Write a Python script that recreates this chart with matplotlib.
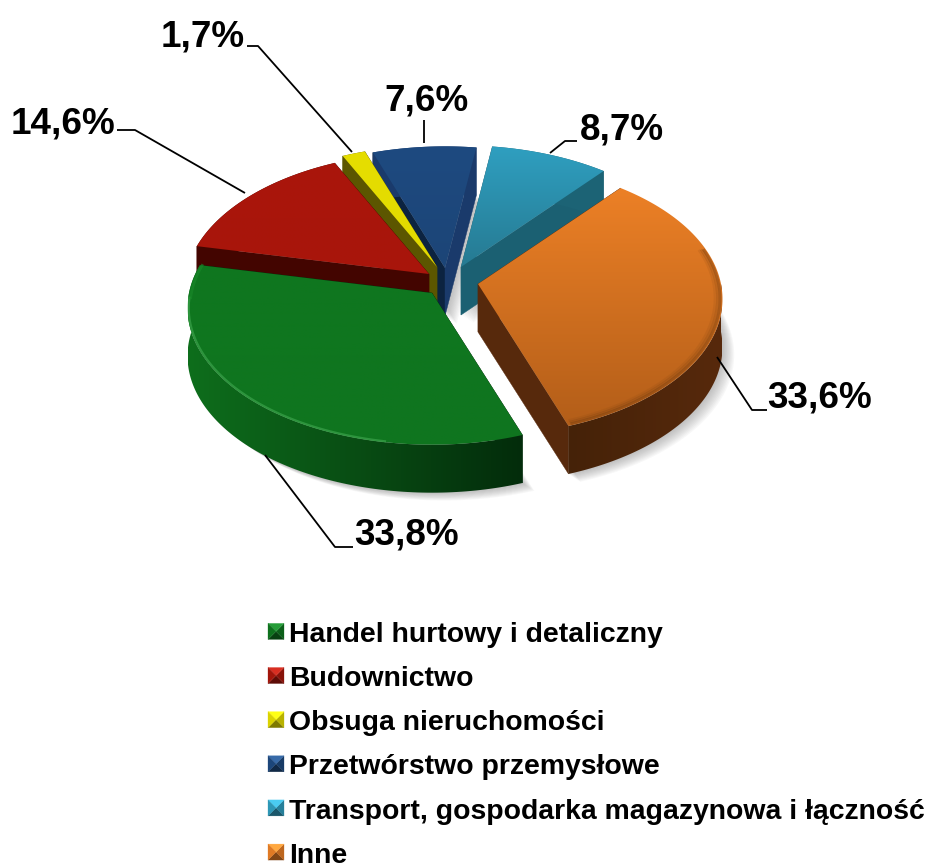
import numpy as np
import matplotlib
matplotlib.use("Agg")
import matplotlib.pyplot as plt
from matplotlib.colors import to_rgb
from matplotlib.legend_handler import HandlerBase
from matplotlib.patches import Polygon

# ---- data ----
categories = ["Handel hurtowy i detaliczny", "Budownictwo", "Obsuga nieruchomości",
              "Przetwórstwo przemysłowe", "Transport, gospodarka magazynowa i łączność", "Inne"]
values = [33.8, 14.6, 1.7, 7.6, 8.7, 33.6]
value_labels = ["33,8%", "14,6%", "1,7%", "7,6%", "8,7%", "33,6%"]

# ---- style / layout (pixels) ----
apexes = [(432, 293), (429, 274), (437, 267), (445, 268), (461, 267), (478, 284)]
top_light = ["#0f771f", "#aa160b", "#e6de00", "#1e4a80", "#2f9fc0", "#ec8026"]
top_dark = ["#0f751f", "#a8150b", "#e2da00", "#1c4577", "#267a92", "#b35e19"]
wall_outer = ["#0e6e1c", "#430500", "#5c5600", "#1a3a6b", "#1c6375", "#57290c"]
wall_end = ["#032c0b", "#430500", "#5c5600", "#1a3a6b", "#1b6072", "#57290c"]
wall_start = ["#032c0b", "#430500", "#5c5600", "#0c2340", "#1b6072", "#57290c"]
label_pos = [(407, 535), (63, 124), (203, 37), (427, 101), (622, 130), (820, 398)]
leaders = [[(353, 547), (335, 547), (265, 455)],
           [(117, 130), (135, 130), (245, 193)],
           [(247, 46), (258, 46), (352, 152)],
           [(424, 120), (424, 143)],
           [(577, 141), (565, 141), (550, 153)],
           [(767, 410), (752, 410), (717, 357)]]
START = 70.5
RX, RY, PERSP, DEPTH = 243.0, 135.0, 0.11, 48.0

plt.rcParams["font.family"] = ["Liberation Sans", "DejaVu Sans"]
fig = plt.figure(figsize=(9.27, 8.63), dpi=100, facecolor="white")
ax = fig.add_axes([0, 0, 1, 1])
ax.set_xlim(0, 927)
ax.set_ylim(863, 0)
ax.axis("off")
ax.autoscale(False)

z = [10]


def nz():
    z[0] += 1
    return z[0]


def proj(apex, deg, r=1.0):
    a = np.radians(deg)
    u, v = r * np.cos(a), r * np.sin(a)
    w = 1 / (1 - PERSP * v)
    return apex[0] + RX * u * w, apex[1] + RY * v * w


def arc(apex, a0, a1, r=1.0, n=120):
    x, y = proj(apex, np.linspace(a0, a1, n), r)
    return np.column_stack([x, y])


def grad_fill(pts, c0, c1, vertical=True):
    pts = np.asarray(pts)
    x0, y0 = pts.min(axis=0)
    x1, y1 = pts.max(axis=0)
    t = np.linspace(0, 1, 128)[:, None]
    ramp = (1 - t) * np.array(to_rgb(c0)) + t * np.array(to_rgb(c1))
    img = ramp[:, None, :] if vertical else ramp[None, :, :]
    zo = nz()
    im = ax.imshow(img, extent=(x0, x1, y1, y0), aspect="auto", interpolation="bilinear", zorder=zo)
    clip = Polygon(pts, closed=True, transform=ax.transData, fc="none", ec="none")
    ax.add_patch(clip)
    im.set_clip_path(clip)


def extrude(top):
    low = top[::-1] + np.array([0, DEPTH])
    return np.vstack([top, low])


# sweep angles from the values
fractions = np.array(values) / np.sum(values)
edges = START + np.concatenate([[0], np.cumsum(fractions) * 360])
spans = list(zip(edges[:-1], edges[1:]))

# soft shadow
for off in np.linspace(1, 13, 10):
    for i, (a0, a1) in enumerate(spans):
        rim = arc(apexes[i], a0, a1)
        poly = np.vstack([[apexes[i]], rim])
        ax.fill(poly[:, 0] + off * 0.9, poly[:, 1] + DEPTH + off * 0.6, color="#707070",
                alpha=0.05, lw=0, zorder=2)

# painter's order: back to front
order = [4, 3, 2, 1, 5, 0]
for i in order:
    a0, a1 = spans[i]
    ap = apexes[i]
    rim = arc(ap, a0, a1)
    # radial walls
    for ang, col in ((a0, wall_start[i]), (a1, wall_end[i])):
        edge = np.array([ap, proj(ap, ang)])
        poly = extrude(edge)
        ax.fill(poly[:, 0], poly[:, 1], color=col, lw=0.3, ec=col, zorder=nz())
    # outer wall
    if i == 0:
        grad_fill(extrude(arc(ap, a1, a0)), "#0e6e1c", "#032c0b", vertical=False)
    elif i == 5:
        grad_fill(extrude(arc(ap, 360, a1)), "#452208", "#57290c", vertical=False)
    else:
        wall = extrude(rim)
        ax.fill(wall[:, 0], wall[:, 1], color=wall_outer[i], lw=0, zorder=nz())
    # top face
    top = np.vstack([[ap], rim])
    grad_fill(top, top_light[i], top_dark[i], vertical=True)

    # rim shading
    if i == 0:
        hl = arc(ap, 100, 178, 0.995)
        ax.plot(hl[:, 0], hl[:, 1], color="#3aa24a", lw=1.6, alpha=0.7, zorder=nz())
        hl = arc(ap, 178, a1, 0.99)
        ax.plot(hl[:, 0], hl[:, 1], color="#1a8a2a", lw=2.0, alpha=0.6, zorder=nz())
    if i == 5:
        for r, al in zip((0.99, 0.98, 0.97), (0.45, 0.25, 0.12)):
            hl = arc(ap, 345, a1 - 1, r)
            ax.plot(hl[:, 0], hl[:, 1], color="#7a4010", lw=2.0, alpha=al, zorder=nz())

# leader lines
for path in leaders:
    p = np.array(path)
    ax.plot(p[:, 0], p[:, 1], color="black", lw=1.3, zorder=200, solid_capstyle="butt")

# value labels
for txt, (x, y) in zip(value_labels, label_pos):
    ax.text(x, y, txt, fontsize=26.6, fontweight="bold", color="black", ha="center", va="center", zorder=201)


# legend with bevelled square keys
class BevelHandle:
    def __init__(self, base):
        self.base = base


class BevelHandler(HandlerBase):
    def create_artists(self, legend, orig, xd, yd, width, height, fontsize, trans):
        s = 16.0 * 72 / 100
        x0 = xd * -1
        y0 = -yd + (height - s) / 2 + 0.5
        corners = [(x0, y0), (x0 + s, y0), (x0 + s, y0 + s), (x0, y0 + s)]
        mid = (x0 + s / 2, y0 + s / 2)
        base = np.array(to_rgb(orig.base))
        shades = [0.55, 0.8, 1.15, 0.95]
        out = []
        for k, f in enumerate(shades):
            tri = [corners[k], corners[(k + 1) % 4], mid]
            col = np.clip(base * f + (0.08 if f > 1 else 0), 0, 1)
            out.append(Polygon(tri, closed=True, fc=col, ec=col, lw=0.2, transform=trans))
        return out


handles = [BevelHandle(c) for c in top_light]
leg = ax.legend(handles, categories, handler_map={BevelHandle: BevelHandler()},
                loc="upper left", bbox_to_anchor=(268, 622), bbox_transform=ax.transData,
                frameon=False, prop={"weight": "bold", "size": 20.4},
                handlelength=0.686, handleheight=0.7, handletextpad=0.05,
                labelspacing=0.64, borderpad=0, borderaxespad=0)
leg.set_zorder(300)

fig.savefig("out.png", dpi=100, facecolor="white")
